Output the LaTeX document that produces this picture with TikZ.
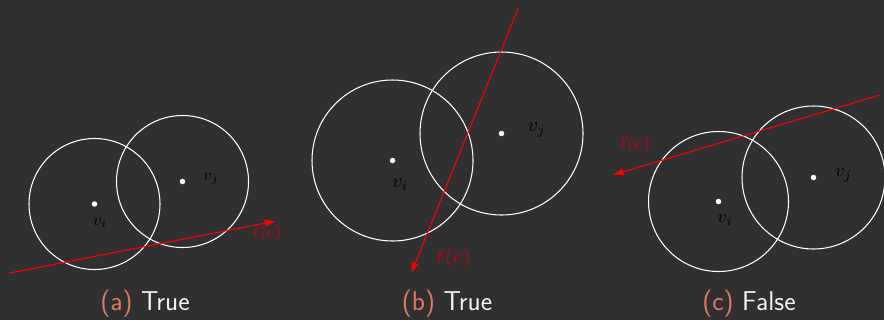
\RequirePackage{fix-cm}
\documentclass[tikz,border=0pt]{standalone}
\usepackage{tikz}
\usetikzlibrary{arrows.meta}
\definecolor{hintergrund}{HTML}{303030}
\definecolor{kante}{HTML}{FF0000}
\definecolor{kantelabel}{HTML}{C8000E}
\definecolor{lachs}{HTML}{E07B62}
\definecolor{hellgrau}{HTML}{F2F2F2}

\begin{document}
\begin{tikzpicture}[>={Latex[length=0.22cm, width=0.15cm]}]

    % --- Definition der Stile ---
    \tikzset{
        punkt/.style={circle, fill=white, inner sep=0pt, minimum size=0.11cm},
        kreis/.style={draw=white, line width=0.6pt},
        linie/.style={->, draw=kante, line width=0.6pt},
        knotenlabel/.style={text=black, inner sep=0pt},
        linienlabel/.style={text=kantelabel, inner sep=0pt},
        titel/.style={font=\sffamily\fontsize{15.5}{18}\selectfont, text=hellgrau, inner sep=0pt}
    }

    % --- Hintergrund ---
    \fill[hintergrund] (0, 0) rectangle (17.68, 6.4);
    \useasboundingbox (0, 0) rectangle (17.68, 6.4);

    % --- Teilbild (a) ---
    \node[punkt] (vi_a) at (1.89, 2.32) {};
    \node[punkt] (vj_a) at (3.65, 2.77) {};
    \draw[kreis] (vi_a) circle (1.31);
    \draw[kreis] (vj_a) circle (1.32);
    \node[knotenlabel, font=\fontsize{9.5}{11}\selectfont] (li_a) at (2.0, 1.95) {$v_i$};
    \node[knotenlabel, font=\fontsize{9.5}{11}\selectfont] (lj_a) at (4.22, 2.82) {$v_j$};
    \coordinate (s_a) at (0.19, 0.94);
    \coordinate (t_a) at (5.52, 1.98);
    \draw[linie] (s_a) -- (t_a);
    \node[linienlabel, font=\fontsize{9.5}{11}\selectfont] (le_a) at (5.34, 1.74) {$\ell(e)$};
    \node[titel] (cap_a) at (2.9, 0.33) {\textcolor{lachs}{(a)} True};

    % --- Teilbild (b) ---
    \node[punkt] (vi_b) at (7.85, 3.19) {};
    \node[punkt] (vj_b) at (10.03, 3.73) {};
    \draw[kreis] (vi_b) circle (1.61);
    \draw[kreis] (vj_b) circle (1.63);
    \node[knotenlabel, font=\fontsize{11.5}{13}\selectfont] (li_b) at (8.0, 2.7) {$v_i$};
    \node[knotenlabel, font=\fontsize{11.5}{13}\selectfont] (lj_b) at (10.73, 3.8) {$v_j$};
    \coordinate (s_b) at (10.37, 6.25);
    \coordinate (t_b) at (8.22, 0.93);
    \draw[linie] (s_b) -- (t_b);
    \node[linienlabel, font=\fontsize{11.8}{13}\selectfont] (le_b) at (9.07, 1.23) {$\ell(e)$};
    \node[titel] (cap_b) at (8.94, 0.33) {\textcolor{lachs}{(b)} True};

    % --- Teilbild (c) ---
    \node[punkt] (vi_c) at (14.37, 2.37) {};
    \node[punkt] (vj_c) at (16.27, 2.85) {};
    \draw[kreis] (vi_c) circle (1.40);
    \draw[kreis] (vj_c) circle (1.43);
    \node[knotenlabel, font=\fontsize{10.5}{12}\selectfont] (li_c) at (14.5, 2.0) {$v_i$};
    \node[knotenlabel, font=\fontsize{10.5}{12}\selectfont] (lj_c) at (16.87, 2.9) {$v_j$};
    \coordinate (s_c) at (17.6, 4.5);
    \coordinate (t_c) at (12.25, 2.9);
    \draw[linie] (s_c) -- (t_c);
    \node[linienlabel, font=\fontsize{10.8}{12}\selectfont] (le_c) at (12.7, 3.5) {$\ell(e)$};
    \node[titel] (cap_c) at (14.98, 0.33) {\textcolor{lachs}{(c)} False};

\end{tikzpicture}
\end{document}
